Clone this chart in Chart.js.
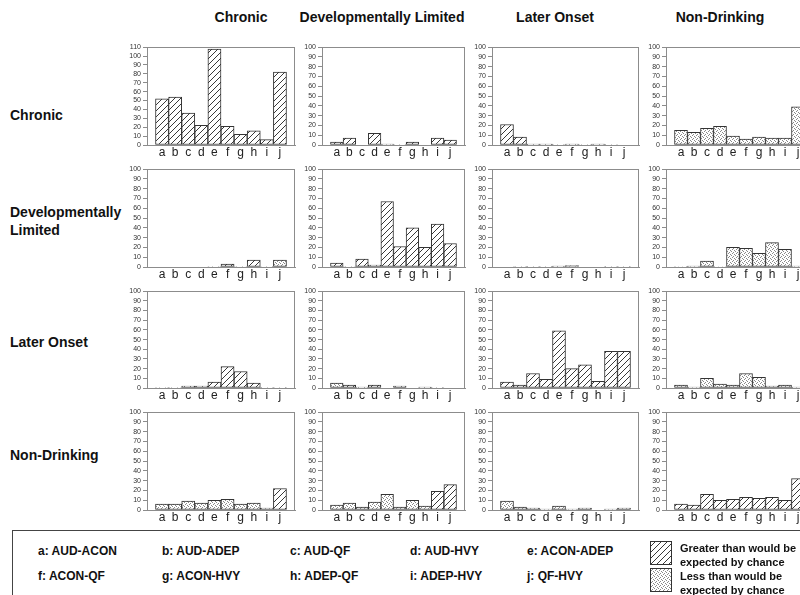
<!DOCTYPE html>
<html>
<head>
<meta charset="utf-8">
<script src="https://cdn.jsdelivr.net/npm/chart.js@4/dist/chart.umd.min.js"></script>
<style>
  body { margin: 0; width: 800px; height: 595px; overflow: hidden; position: relative; background: #fff;
         font-family: "Liberation Sans", Arial, sans-serif; color: #111; }
  .lbl { position: absolute; font-weight: bold; font-size: 14px; line-height: 18px; white-space: nowrap; }
  .head { transform: translateX(-50%); }
  .key { position: absolute; font-weight: bold; font-size: 12px; line-height: 16px; white-space: nowrap; }
  .note { position: absolute; font-weight: bold; font-size: 11px; line-height: 14px; white-space: nowrap; }
  canvas { position: absolute; }
  #keybox { position: absolute; left: 12px; top: 530px; width: 820px; height: 80px; border: 1px solid #444; }
</style>
</head>
<body>
<div id="keybox"></div>
<script>
// groups used for both rows and columns
var groups = ['Chronic', 'Developmentally Limited', 'Later Onset', 'Non-Drinking'];
var letters = ['a', 'b', 'c', 'd', 'e', 'f', 'g', 'h', 'i', 'j'];
var pairs = ['AUD-ACON', 'AUD-ADEP', 'AUD-QF', 'AUD-HVY', 'ACON-ADEP',
             'ACON-QF', 'ACON-HVY', 'ADEP-QF', 'ADEP-HVY', 'QF-HVY'];

// one row of panels per group, one array per column group
var chronicVals = [
  [52, 54, 36, 22, 108, 21, 12, 16, 6, 82],
  [3, 7, 0, 12, 1, 0.5, 3, 0, 7, 5],
  [21, 8, 1, 1, 0.5, 1, 0.5, 1, 0.5, 0],
  [15, 13, 17, 19, 9, 6, 8, 7, 7, 39]
];
var devLimitedVals = [
  [null, null, null, null, 0.5, 3, 0.5, 7, 0.5, 7],
  [4, 0.5, 8, 2, 67, 21, 40, 20, 44, 24],
  [0, 0.5, 0.5, 0.5, 1, 1.5, 0, 0, 0.5, 0.5],
  [0.5, 1, 6, 0.5, 20, 19, 14, 25, 18, 1]
];
var laterOnsetVals = [
  [0.5, 0.5, 2, 2, 6, 22, 17, 5, 0.5, 0.5],
  [5, 3, 1, 3, 0, 2, 0, 1, 0.5, 0],
  [6, 3, 15, 9, 59, 20, 24, 7, 38, 38],
  [3, 1, 10, 4, 3, 15, 11, 2, 3, 1]
];
var nonDrinkingVals = [
  [6, 6, 9, 7, 10, 11, 6, 7, 2, 22],
  [5, 7, 3, 8, 16, 3, 10, 4, 19, 26],
  [9, 3, 2, 1, 4, 1, 2, 0, 1, 2],
  [6, 5, 16, 10, 11, 13, 12, 13, 10, 32]
];
// '+' greater than expected by chance, '-' less than expected
var chronicSign = ['++++++++++', '++++-+++++', '++++++++++', '----------'];
var devLimitedSign = ['+++++++++-', '++++++++++', '++++++++++', '----------'];
var laterOnsetSign = ['++++++++++', '-+++++++++', '++++++++++', '----------'];
var nonDrinkingSign = ['---------+', '--------++', '----------', '++++++++++'];

var allVals = [chronicVals, devLimitedVals, laterOnsetVals, nonDrinkingVals];
var allSign = [chronicSign, devLimitedSign, laterOnsetSign, nonDrinkingSign];

var colLeft = [147, 322, 492, 666];
var colWidth = [148, 143, 147, 147];
var rowTop = [47, 169, 291, 412];
var rowHeight = [98, 98, 97, 98];

function hatchTile(size) {
  var c = document.createElement('canvas');
  c.width = c.height = size;
  var g = c.getContext('2d');
  g.fillStyle = '#fff';
  g.fillRect(0, 0, size, size);
  g.strokeStyle = '#222';
  g.lineWidth = 0.9;
  g.beginPath();
  g.moveTo(-1, size + 1); g.lineTo(size + 1, -1);
  g.moveTo(-1, 1); g.lineTo(1, -1);
  g.moveTo(size - 1, size + 1); g.lineTo(size + 1, size - 1);
  g.stroke();
  return c;
}

function dotTile() {
  var c = document.createElement('canvas');
  c.width = c.height = 4;
  var g = c.getContext('2d');
  g.fillStyle = '#fff';
  g.fillRect(0, 0, 4, 4);
  g.fillStyle = '#8a8a8a';
  g.fillRect(0, 0, 1, 1);
  g.fillRect(2, 1, 1, 1);
  g.fillRect(1, 2, 1, 1);
  g.fillRect(3, 3, 1, 1);
  return c;
}

var HATCH = hatchTile(6);
var DOTS = dotTile();

var framePlugin = {
  id: 'frame',
  beforeDatasetsDraw: function (chart) {
    var a = chart.chartArea, ctx = chart.ctx;
    ctx.save();
    ctx.strokeStyle = '#8c8c8c';
    ctx.lineWidth = 1;
    ctx.strokeRect(Math.round(a.left) + 0.5, Math.round(a.top) + 0.5,
                   Math.round(a.right - a.left) - 1, Math.round(a.bottom - a.top));
    ctx.restore();
  }
};

function drawPanel(r, c) {
  var vals = allVals[r][c];
  var signs = allSign[r][c];
  var W = colWidth[c], H = rowHeight[r];
  var padL = 35, padT = 6, padR = 3, padB = 20;
  var cv = document.createElement('canvas');
  cv.width = padL + W + padR;
  cv.height = padT + H + padB;
  cv.style.left = (colLeft[c] - padL) + 'px';
  cv.style.top = (rowTop[r] - padT) + 'px';
  document.body.appendChild(cv);
  var ctx = cv.getContext('2d');

  var gapPx = 8.5;
  var unit = (W - 2 * gapPx) / letters.length;
  var xPad = 0.5 + gapPx / unit;
  var yMax = (r === 0 && c === 0) ? 110 : 100;

  new Chart(ctx, {
    type: 'bar',
    data: {
      datasets: [{
        data: vals.map(function (v, i) { return { x: i, y: v }; }),
        backgroundColor: letters.map(function (l, i) {
          return ctx.createPattern(signs[i] === '+' ? HATCH : DOTS, 'repeat');
        }),
        borderColor: '#333',
        borderWidth: 1,
        borderSkipped: false,
        barPercentage: 1,
        categoryPercentage: 1
      }]
    },
    options: {
      responsive: false,
      animation: false,
      layout: { padding: { top: padT, right: padR, left: 0, bottom: 0 } },
      plugins: { legend: { display: false }, tooltip: { enabled: false } },
      scales: {
        x: {
          type: 'linear',
          offset: false,
          min: -xPad,
          max: letters.length - 1 + xPad,
          afterBuildTicks: function (s) {
            s.ticks = letters.map(function (l, i) { return { value: i }; });
          },
          afterFit: function (s) { s.height = padB; },
          grid: { display: false, drawTicks: false, offset: false },
          border: { display: true, color: '#8c8c8c' },
          ticks: {
            autoSkip: false, maxRotation: 0, padding: 0,
            color: '#222', font: { size: 12, family: 'Liberation Sans' },
            callback: function (v) { return letters[v]; }
          }
        },
        y: {
          min: 0,
          max: yMax,
          afterFit: function (s) { s.width = padL; },
          grid: { drawOnChartArea: false, drawTicks: true, tickLength: 4, color: '#8c8c8c' },
          border: { display: true, color: '#8c8c8c' },
          ticks: {
            stepSize: 10, autoSkip: false, padding: 2,
            color: '#333', font: { size: 7, family: 'Liberation Sans' }
          }
        }
      }
    },
    plugins: [framePlugin]
  });
}

function addText(cls, text, x, y) {
  var d = document.createElement('div');
  d.className = cls;
  d.textContent = text;
  d.style.left = x + 'px';
  d.style.top = y + 'px';
  document.body.appendChild(d);
  return d;
}

var headX = [241, 382, 555, 720];
groups.forEach(function (g, i) { addText('lbl head', g, headX[i], 8); });

addText('lbl', 'Chronic', 10, 106);
addText('lbl', 'Developmentally', 10, 203);
addText('lbl', 'Limited', 10, 221);
addText('lbl', 'Later Onset', 10, 333);
addText('lbl', 'Non-Drinking', 10, 446);

for (var r = 0; r < 4; r++) {
  for (var c = 0; c < 4; c++) {
    drawPanel(r, c);
  }
}

// key
var keyX = [38, 162, 290, 410, 527];
pairs.forEach(function (p, i) {
  addText('key', letters[i] + ': ' + p, keyX[i % 5], i < 5 ? 543 : 568);
});

function swatch(tile, y) {
  var s = document.createElement('canvas');
  s.width = 22; s.height = 24;
  s.style.left = '650px';
  s.style.top = y + 'px';
  document.body.appendChild(s);
  var g = s.getContext('2d');
  g.fillStyle = g.createPattern(tile, 'repeat');
  g.fillRect(0, 0, 22, 24);
  g.strokeStyle = '#333';
  g.strokeRect(0.5, 0.5, 21, 23);
}
swatch(HATCH, 541);
swatch(DOTS, 568);
addText('note', 'Greater than would be', 680, 541);
addText('note', 'expected by chance', 680, 555);
addText('note', 'Less than would be', 680, 569);
addText('note', 'expected by chance', 680, 583);
</script>
</body>
</html>
